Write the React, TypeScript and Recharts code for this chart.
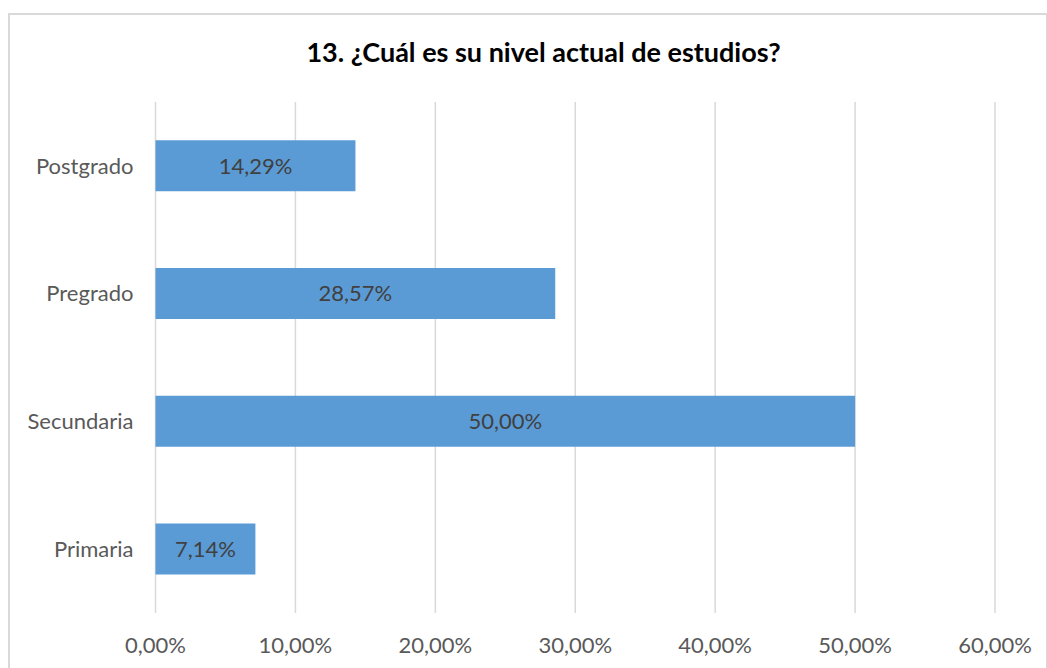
import { Bar, BarChart, CartesianGrid, LabelList, XAxis, YAxis } from "recharts";

const BAR = "#5B9BD5";
const GRID = "#D9D9D9";
const AXIS_TEXT = "#595959";
const LABEL_TEXT = "#404040";
const FONT = "Lato, 'Open Sans', sans-serif";

const TITLE = "13. ¿Cuál es su nivel actual de estudios?";
const levels = ["Postgrado", "Pregrado", "Secundaria", "Primaria"];
const shares = [14.29, 28.57, 50.0, 7.14];
const xTicks = [0, 10, 20, 30, 40, 50, 60];

const data = levels.map((level, i) => ({ level, share: shares[i] }));

const pct = (v: number) => v.toFixed(2).replace(".", ",") + "%";

export default function App() {
  return (
    <div
      style={{
        position: "absolute",
        left: 0,
        top: 0,
        width: 1047,
        height: 668,
        overflow: "hidden",
        background: "#fff",
        fontFamily: FONT,
      }}
    >
      <div
        style={{
          position: "absolute",
          left: 8,
          top: 13,
          width: 1036,
          height: 700,
          border: `2px solid ${GRID}`,
        }}
      />
      <div
        style={{
          position: "absolute",
          left: 0,
          width: 1087,
          top: 34,
          lineHeight: "36px",
          textAlign: "center",
          fontWeight: 700,
          fontSize: 27,
          color: "#000",
        }}
      >
        {TITLE}
      </div>
      <div style={{ position: "absolute", left: 0, top: 0 }}>
        <BarChart
          width={1047}
          height={668}
          data={data}
          layout="vertical"
          margin={{ top: 102, right: 52, bottom: 0, left: 0 }}
          barCategoryGap="30%"
        >
          <CartesianGrid stroke={GRID} strokeWidth={1.5} horizontal={false} />
          <XAxis
            type="number"
            domain={[0, 60]}
            ticks={xTicks}
            tickFormatter={pct}
            axisLine={false}
            tickLine={false}
            tickSize={0}
            tickMargin={24}
            height={55}
            tick={{ fill: AXIS_TEXT, fontSize: 22, fontFamily: FONT }}
          />
          <YAxis
            type="category"
            dataKey="level"
            axisLine={false}
            tickLine={false}
            tickSize={0}
            tickMargin={22}
            width={155.5}
            tick={{ fill: AXIS_TEXT, fontSize: 22, fontFamily: FONT }}
          />
          <Bar dataKey="share" fill={BAR} isAnimationActive={false}>
            <LabelList
              dataKey="share"
              position="center"
              formatter={(v: any) => pct(Number(v))}
              fill={LABEL_TEXT}
              fontSize={22}
              fontFamily={FONT}
            />
          </Bar>
        </BarChart>
      </div>
    </div>
  );
}
